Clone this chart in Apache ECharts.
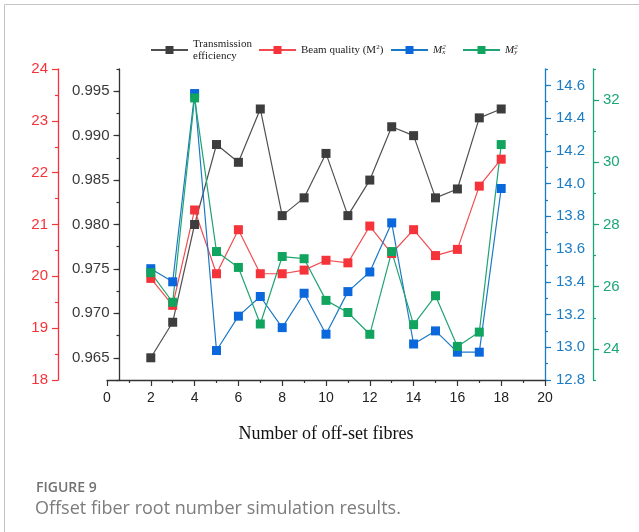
<!DOCTYPE html>
<html>
<head>
<meta charset="utf-8">
<script src="https://cdn.jsdelivr.net/npm/echarts@6/dist/echarts.min.js"></script>
<style>
  html, body { margin: 0; padding: 0; background: #ffffff; }
  #chart { width: 639px; height: 532px; }
</style>
</head>
<body>
<div id="chart"></div>
<script>
// Number of off-set fibres on the x axis
const fibres = [2, 3, 4, 5, 6, 7, 8, 9, 10, 11, 12, 13, 14, 15, 16, 17, 18];

// Series values
const transmission = [0.965, 0.969, 0.980, 0.989, 0.987, 0.993, 0.981, 0.983, 0.988,
                      0.981, 0.985, 0.991, 0.990, 0.983, 0.984, 0.992, 0.993];
const beamQuality = [19.96, 19.44, 21.28, 20.05, 20.90, 20.05, 20.05, 20.12, 20.31,
                     20.26, 20.97, 20.44, 20.90, 20.40, 20.52, 21.74, 22.26];
const m2x = [13.48, 13.40, 14.55, 12.98, 13.19, 13.31, 13.12, 13.33, 13.08,
             13.34, 13.46, 13.76, 13.02, 13.10, 12.97, 12.97, 13.97];
const m2y = [26.45, 25.50, 32.07, 27.13, 26.62, 24.80, 26.97, 26.90, 25.56,
             25.17, 24.47, 27.13, 24.78, 25.71, 24.08, 24.54, 30.57];

// Tick labels of the axes
const transmissionTicks = [0.965, 0.970, 0.975, 0.980, 0.985, 0.990, 0.995];
const m2xTicks = [12.8, 13.0, 13.2, 13.4, 13.6, 13.8, 14.0, 14.2, 14.4, 14.6];
const m2yTicks = [24, 26, 28, 30, 32];

const COL = {
  black: '#3d3d3d', blackLine: '#505050',
  red: '#f5333a', redLine: '#f24b4f',
  blue: '#0a67dc', blueLine: '#1b78c6', blueAxis: '#1a7cc4',
  green: '#10a45e', greenLine: '#20a472', greenAxis: '#1ca677'
};
const tickFont = '"Liberation Sans", Arial, sans-serif';
const serif = '"Liberation Serif", "Times New Roman", serif';

// An axis drawn as two layers: a line with short minor ticks, and the labelled major ticks
function axisPair(o) {
  const common = {
    type: 'value', min: o.min, max: o.max, position: o.position, offset: o.offset,
    splitLine: { show: false }, scale: true
  };
  const minor = Object.assign({}, common, {
    interval: o.minorStep,
    axisLine: { show: true, onZero: false, lineStyle: { color: o.color, width: 1.3 } },
    axisTick: { show: true, length: 3, lineStyle: { color: o.color, width: 1.2 } },
    axisLabel: { show: false }
  });
  const major = Object.assign({}, common, {
    axisLine: { show: false, onZero: false },
    axisTick: { show: true, length: 6, customValues: o.ticks, lineStyle: { color: o.color, width: 1.2 } },
    axisLabel: {
      show: true, customValues: o.ticks, color: o.labelColor || o.color,
      fontSize: 15, fontFamily: tickFont, margin: o.margin,
      formatter: v => v.toFixed(o.digits)
    }
  });
  return [minor, major];
}

const yAxes = [
  // 0: beam quality (red)
  {
    type: 'value', min: 18, max: 24, interval: 1, position: 'left', offset: 49,
    axisLine: { show: true, onZero: false, lineStyle: { color: COL.red, width: 1.3 } },
    axisTick: { show: true, length: 6, lineStyle: { color: COL.red, width: 1.2 } },
    minorTick: { show: true, splitNumber: 2, length: 3, lineStyle: { color: COL.red, width: 1.2 } },
    axisLabel: { color: COL.red, fontSize: 15, fontFamily: tickFont, margin: 10 },
    splitLine: { show: false }
  }
].concat(
  // 1,2: transmission efficiency (black)
  axisPair({ min: 0.9625, max: 0.9975, minorStep: 0.0025, ticks: transmissionTicks,
             position: 'left', offset: -12.5, color: '#333333', labelColor: '#3a3a3a',
             margin: 10, digits: 3 }),
  // 3,4: M2x (blue)
  axisPair({ min: 12.8, max: 14.7, minorStep: 0.1, ticks: m2xTicks,
             position: 'right', offset: 0, color: COL.blueAxis, margin: 11, digits: 1 }),
  // 5,6: M2y (green)
  axisPair({ min: 23, max: 33, minorStep: 1, ticks: m2yTicks,
             position: 'right', offset: 48, color: COL.greenAxis, margin: 10, digits: 0 })
);

function lineSeries(name, values, yIdx, markColor, lineColor) {
  return {
    name: name, type: 'line', yAxisIndex: yIdx,
    data: fibres.map((f, i) => [f, values[i]]),
    symbol: 'rect', symbolSize: 9,
    itemStyle: { color: markColor },
    lineStyle: { color: lineColor, width: 1.2 },
    emphasis: { disabled: true },
    animation: false
  };
}

const legendText = {
  fontFamily: serif, fontSize: 11, color: '#1a1a1a', lineHeight: 12,
  rich: {
    sup: { fontFamily: serif, fontSize: 7, verticalAlign: 'top', lineHeight: 12, padding: [0, 0, 0, 0] },
    it: { fontFamily: serif, fontSize: 11, fontStyle: 'italic', lineHeight: 12 },
    isup: { fontFamily: serif, fontSize: 7, fontStyle: 'italic', verticalAlign: 'top', lineHeight: 12, width: 0 },
    isub: { fontFamily: serif, fontSize: 7, fontStyle: 'italic', verticalAlign: 'bottom', lineHeight: 12 }
  }
};
const legendLabels = {
  'Transmission efficiency': 'Transmission\nefficiency',
  'Beam quality (M2)': 'Beam quality (M{sup|2})',
  'M2x': '{it|M}{isup|2}{isub|x}',
  'M2y': '{it|M}{isup|2}{isub|y}'
};
function legendAt(name, left, top) {
  return {
    data: [name], left: left, top: top, orient: 'horizontal',
    itemWidth: 37, itemHeight: 10, itemGap: 0, padding: 0,
    selectedMode: false,
    textStyle: legendText,
    formatter: n => legendLabels[n]
  };
}

const option = {
  backgroundColor: '#ffffff',
  animation: false,
  grid: { left: 107, right: 94, top: 69, bottom: 152, containLabel: false },
  legend: [
    legendAt('Transmission efficiency', 150, 38),
    legendAt('Beam quality (M2)', 258, 44),
    legendAt('M2x', 390, 44),
    legendAt('M2y', 462, 44)
  ],
  xAxis: {
    type: 'value', min: 0, max: 20, interval: 2,
    axisLine: { show: true, onZero: false, lineStyle: { color: '#333333', width: 1.3 } },
    axisTick: { show: true, length: 6, lineStyle: { color: '#333333', width: 1.2 } },
    minorTick: { show: true, splitNumber: 2, length: 3, lineStyle: { color: '#333333', width: 1.2 } },
    axisLabel: { color: '#222222', fontSize: 14, fontFamily: tickFont, margin: 11 },
    splitLine: { show: false },
    name: 'Number of off-set fibres', nameLocation: 'middle', nameGap: 45,
    nameTextStyle: { fontFamily: serif, fontSize: 18, color: '#111111' }
  },
  yAxis: yAxes,
  series: [
    lineSeries('Transmission efficiency', transmission, 2, COL.black, COL.blackLine),
    lineSeries('Beam quality (M2)', beamQuality, 0, COL.red, COL.redLine),
    lineSeries('M2x', m2x, 4, COL.blue, COL.blueLine),
    lineSeries('M2y', m2y, 6, COL.green, COL.greenLine)
  ],
  graphic: [
    { type: 'line', silent: true, shape: { x1: 4.5, y1: 4.5, x2: 639, y2: 4.5 },
      style: { stroke: '#c4c4c4', lineWidth: 1 } },
    { type: 'line', silent: true, shape: { x1: 4.5, y1: 4.5, x2: 4.5, y2: 532 },
      style: { stroke: '#c4c4c4', lineWidth: 1 } },
    { type: 'text', left: 36, top: 481, silent: true,
      style: { text: 'FIGURE 9', font: '600 14px "Open Sans", sans-serif', fill: '#727272' } },
    { type: 'text', left: 35, top: 500, silent: true,
      style: { text: 'Offset fiber root number simulation results.', font: '18px "Open Sans", sans-serif', fill: '#7c7c7c' } }
  ]
};

const chart = echarts.init(document.getElementById('chart'), null, { renderer: 'canvas' });
chart.setOption(option);
</script>
</body>
</html>
